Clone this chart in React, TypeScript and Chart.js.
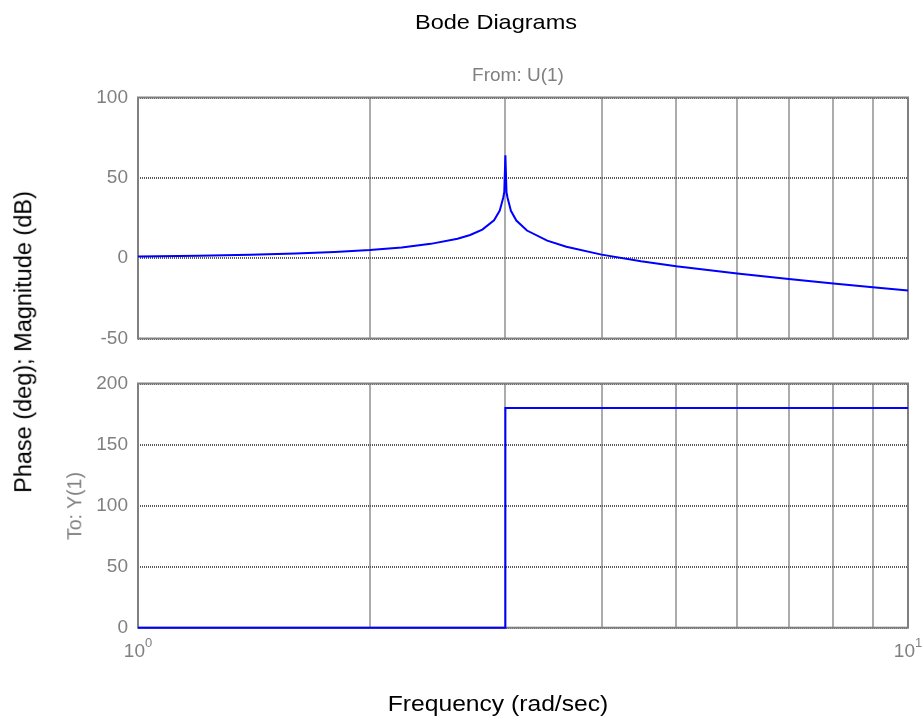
import React, { useEffect, useRef } from "react";
import { Chart, registerables } from "chart.js";
Chart.register(...registerables);

// Magnitude (dB) vs frequency (rad/sec)
const magFreq = [1, 1.2, 1.4, 1.6, 1.8, 2, 2.2, 2.4, 2.6, 2.7, 2.8, 2.9, 2.95, 2.98, 2.99, 3, 3.01, 3.02, 3.05, 3.1, 3.2, 3.4, 3.6, 4, 4.5, 5, 6, 7, 8, 9, 10];
const magDb = [1.0, 1.5, 2.1, 2.9, 3.9, 5.1, 6.7, 8.9, 12.1, 14.4, 17.8, 23.6, 29.6, 37.5, 41, 64, 41, 37.5, 29.5, 23.4, 17.2, 10.9, 7.1, 2.2, -1.9, -5.0, -9.5, -13.0, -15.7, -18.1, -20.1];

// Phase (deg) vs frequency
const phaseFreq = [1, 3, 3, 10];
const phaseDeg = [0, 0, 180, 180];

const xTicks = [1, 2, 3, 4, 5, 6, 7, 8, 9, 10];
const xLabelTicks = [1, 10];
const magTicks = [-50, 0, 50, 100];
const phaseTicks = [0, 50, 100, 150, 200];

const FONT = "'Liberation Sans', Arial, Helvetica, sans-serif";
const GRAY = "#808080";
const GRID = "#5a5a5a";

const boxPlugin = {
  id: "box",
  beforeDatasetsDraw(chart: any) {
    const { ctx, chartArea: a } = chart;
    ctx.save();
    ctx.strokeStyle = GRAY;
    ctx.lineWidth = 2;
    ctx.setLineDash([]);
    ctx.strokeRect(a.left, a.top, a.right - a.left, a.bottom - a.top);
    ctx.restore();
  },
};

const xLabelPlugin = {
  id: "xlabels",
  afterDraw(chart: any) {
    const sc = chart.scales.x;
    const { ctx, chartArea: a } = chart;
    ctx.save();
    ctx.fillStyle = GRAY;
    ctx.textBaseline = "alphabetic";
    ctx.textAlign = "left";
    xLabelTicks.forEach((v) => {
      const exp = String(Math.round(Math.log10(v)));
      ctx.font = `19px ${FONT}`;
      const w1 = ctx.measureText("10").width;
      ctx.font = `13px ${FONT}`;
      const w2 = ctx.measureText(exp).width;
      const x = sc.getPixelForValue(v) - (w1 + w2) / 2;
      const base = a.bottom + 29;
      ctx.font = `19px ${FONT}`;
      ctx.fillText("10", x, base);
      ctx.font = `13px ${FONT}`;
      ctx.fillText(exp, x + w1, base - 10);
    });
    ctx.restore();
  },
};

function makeX() {
  return {
    type: "logarithmic",
    min: 1,
    max: 10,
    afterBuildTicks: (s: any) => {
      s.ticks = xTicks.map((v) => ({ value: v }));
    },
    afterFit: (s: any) => {
      s.height = 0;
    },
    ticks: { display: false },
    grid: { color: GRID, lineWidth: 2, drawTicks: false },
    border: { display: false, dash: [1, 1] },
  };
}

function makeY(min: number, max: number, ticks: number[]) {
  return {
    type: "linear",
    min,
    max,
    afterBuildTicks: (s: any) => {
      s.ticks = ticks.map((v) => ({ value: v }));
    },
    afterFit: (s: any) => {
      s.width = 138;
    },
    ticks: {
      color: GRAY,
      font: { family: FONT, size: 19 },
      padding: 10,
    },
    grid: { color: GRID, lineWidth: 2, drawTicks: false },
    border: { display: false, dash: [1, 1] },
  };
}

function Plot(props: {
  top: number;
  height: number;
  xs: number[];
  ys: number[];
  min: number;
  max: number;
  ticks: number[];
  padTop: number;
  padBottom: number;
  xLabels: boolean;
}) {
  const ref = useRef<HTMLCanvasElement | null>(null);
  useEffect(() => {
    if (!ref.current) return;
    const chart = new Chart(ref.current, {
      type: "line",
      data: {
        datasets: [
          {
            data: props.xs.map((x, i) => ({ x, y: props.ys[i] })),
            borderColor: "#0000ff",
            borderWidth: 2,
            pointRadius: 0,
            tension: 0,
            fill: false,
            clip: false,
          } as any,
        ],
      },
      options: {
        responsive: false,
        animation: false,
        devicePixelRatio: 1,
        layout: {
          padding: { top: props.padTop, bottom: props.padBottom, left: 0, right: 14 },
        },
        plugins: { legend: { display: false }, tooltip: { enabled: false } },
        scales: {
          x: makeX() as any,
          y: makeY(props.min, props.max, props.ticks) as any,
        },
      } as any,
      plugins: props.xLabels ? [boxPlugin, xLabelPlugin] : [boxPlugin],
    });
    return () => chart.destroy();
  }, []);
  return (
    <canvas
      ref={ref}
      width={922}
      height={props.height}
      style={{ position: "absolute", left: 0, top: props.top, width: 922, height: props.height }}
    />
  );
}

const textBase: React.CSSProperties = {
  position: "absolute",
  fontFamily: FONT,
  whiteSpace: "nowrap",
  lineHeight: 1,
  transform: "translate(-50%, -50%)",
};

export default function App() {
  return (
    <div style={{ position: "absolute", left: 0, top: 0, width: 922, height: 717, background: "#fff", overflow: "hidden" }}>
      <Plot top={0} height={360} xs={magFreq} ys={magDb} min={-50} max={100} ticks={magTicks} padTop={97.5} padBottom={21.5} xLabels={false} />
      <Plot top={360} height={357} xs={phaseFreq} ys={phaseDeg} min={0} max={200} ticks={phaseTicks} padTop={23.5} padBottom={89.3} xLabels={true} />
      <div style={{ ...textBase, left: 496, top: 21, fontSize: 21, color: "#000", transform: "translate(-50%, -50%) scaleX(1.12)" }}>Bode Diagrams</div>
      <div style={{ ...textBase, left: 518, top: 74, fontSize: 19, color: GRAY }}>From: U(1)</div>
      <div style={{ ...textBase, left: 498, top: 704, fontSize: 22, color: "#000", transform: "translate(-50%, -50%) scaleX(1.12)" }}>Frequency (rad/sec)</div>
      <div style={{ ...textBase, left: 24, top: 342, fontSize: 23.5, color: "#000", transform: "translate(-50%, -50%) rotate(-90deg)" }}>
        Phase (deg); Magnitude (dB)
      </div>
      <div style={{ ...textBase, left: 75, top: 506, fontSize: 19.5, color: GRAY, transform: "translate(-50%, -50%) rotate(-90deg)" }}>
        To: Y(1)
      </div>
    </div>
  );
}
